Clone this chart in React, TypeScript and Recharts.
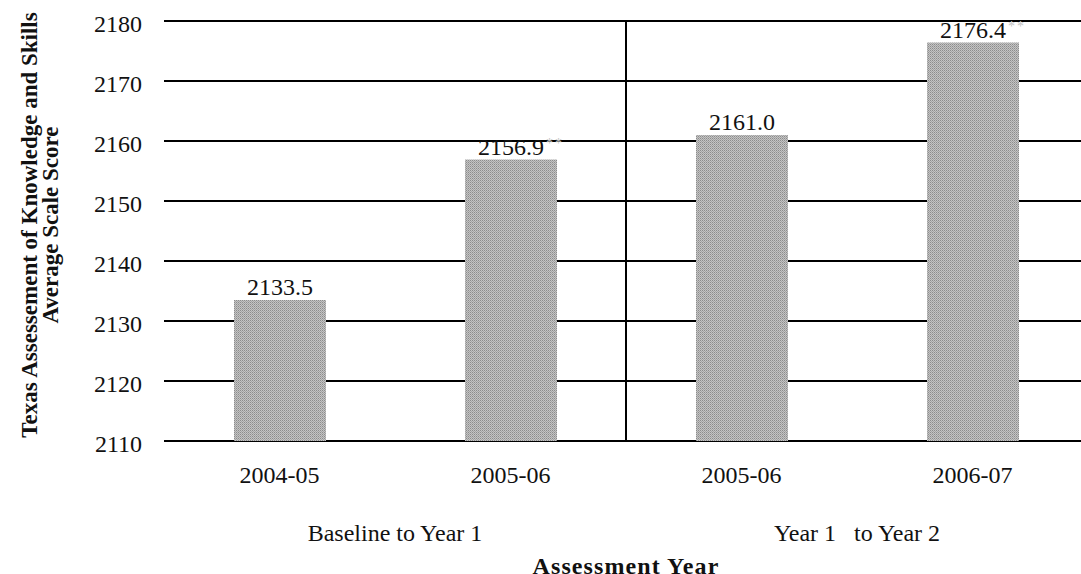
import React from "react";
import { BarChart, Bar, XAxis, YAxis, CartesianGrid, ReferenceLine, LabelList } from "recharts";

const years = ["2004-05", "2005-06", "2005-06", "2006-07"];
const periods = ["Baseline to Year 1", "Baseline to Year 1", "Year 1   to Year 2", "Year 1   to Year 2"];
const scores = [2133.5, 2156.9, 2161.0, 2176.4];
const significance = ["", "**", "", "**"];
const yTicks = [2110, 2120, 2130, 2140, 2150, 2160, 2170, 2180];

const data = years.map((year, i) => ({ year, period: periods[i], score: scores[i] }));

const SERIF = "'Liberation Serif', 'Times New Roman', serif";

const renderValueLabel = (props: any) => {
  const { x, y, width, index } = props;
  const cx = Number(x) + Number(width) / 2;
  const txt = scores[index].toFixed(1);
  const sig = significance[index];
  return (
    <g>
      <text x={cx} y={Number(y) - 5} textAnchor="middle" fontFamily={SERIF} fontSize={24} fill="#111">
        {txt}
      </text>
      {sig ? (
        <text x={cx + 35} y={Number(y) - 12} fontFamily={SERIF} fontSize={14} fill="#c4c4c4" letterSpacing={2}>
          {sig}
        </text>
      ) : null}
    </g>
  );
};

const YTick = (props: any) => {
  const { x, y, payload } = props;
  return (
    <text x={x} y={Number(y) + 11} textAnchor="end" fontFamily={SERIF} fontSize={24} fill="#111">
      {payload.value}
    </text>
  );
};

const PeriodTick = (props: any) => {
  const { x, y, payload } = props;
  return (
    <text
      x={x}
      y={y}
      dy="0.71em"
      textAnchor="middle"
      fontFamily={SERIF}
      fontSize={24}
      fill="#111"
      style={{ whiteSpace: "pre" }}
      xmlSpace="preserve"
    >
      {payload.value}
    </text>
  );
};

const renderYTitle = (props: any) => {
  const vb = props.viewBox || { x: 0, y: 21, width: 164, height: 420 };
  const cy = vb.y + vb.height / 2 - 6;
  return (
    <g fontFamily={SERIF} fontWeight="bold" fontSize={23} fill="#111">
      <text x={37} y={cy} transform={`rotate(-90, 37, ${cy})`} textAnchor="middle">
        Texas Assessement of Knowledge and Skills
      </text>
      <text x={58} y={cy} transform={`rotate(-90, 58, ${cy})`} textAnchor="middle">
        Average Scale Score
      </text>
    </g>
  );
};

const renderXTitle = (props: any) => {
  const vb = props.viewBox || { x: 164, y: 501, width: 924, height: 90 };
  return (
    <text
      x={vb.x + vb.width / 2}
      y={vb.y + vb.height - 17}
      textAnchor="middle"
      fontFamily={SERIF}
      fontWeight="bold"
      fontSize={24}
      letterSpacing={1.1}
      fill="#111"
    >
      Assessment Year
    </text>
  );
};

export default function App() {
  return (
    <div style={{ position: "absolute", left: 0, top: 0, width: 1081, height: 574, overflow: "hidden", background: "#fff" }}>
      <BarChart width={1090} height={600} data={data} margin={{ top: 21, right: 2, bottom: 9, left: 0 }}>
        <defs>
          <pattern id="stipple" width="2" height="2" patternUnits="userSpaceOnUse">
            <rect x="0" y="0" width="2" height="2" fill="#c4c4c4" />
            <rect x="0" y="0" width="1" height="1" fill="#8c8c8c" />
            <rect x="1" y="1" width="1" height="1" fill="#a4a4a4" />
          </pattern>
        </defs>
        <CartesianGrid vertical={false} stroke="#000" strokeWidth={2} />
        <YAxis
          type="number"
          domain={[2110, 2180]}
          ticks={yTicks}
          interval={0}
          width={164}
          axisLine={false}
          tickLine={false}
          tickSize={0}
          tickMargin={22}
          tick={<YTick />}
          label={renderYTitle}
        />
        <XAxis
          dataKey="year"
          type="category"
          height={60}
          axisLine={false}
          tickLine={false}
          tickSize={0}
          tickMargin={25}
          interval={0}
          tick={{ fontFamily: SERIF, fontSize: 24, fill: "#111" }}
        />
        <XAxis
          xAxisId="period"
          dataKey="period"
          type="category"
          allowDuplicatedCategory={false}
          interval={0}
          height={90}
          axisLine={false}
          tickLine={false}
          tickSize={0}
          tickMargin={23}
          tick={<PeriodTick />}
          label={renderXTitle}
        />
        <Bar dataKey="score" fill="url(#stipple)" barSize={92} isAnimationActive={false}>
          <LabelList dataKey="score" content={renderValueLabel} />
        </Bar>
        <ReferenceLine xAxisId="period" x={periods[0]} position="end" stroke="#000" strokeWidth={2} />
      </BarChart>
    </div>
  );
}
